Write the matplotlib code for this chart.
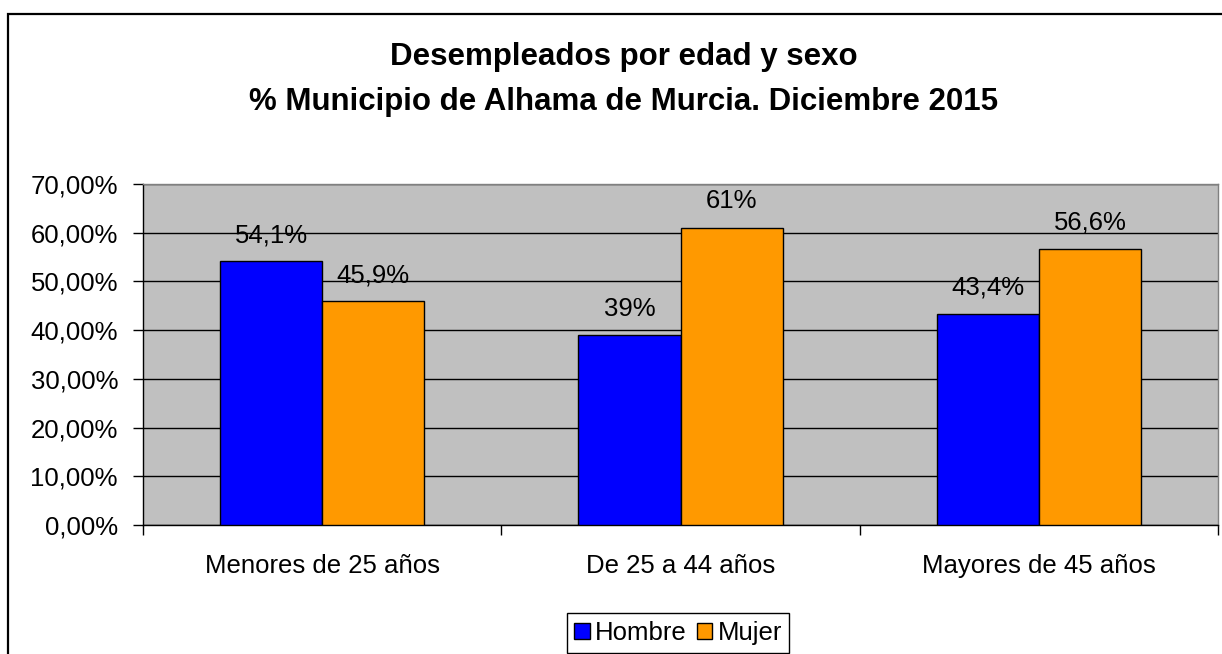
import matplotlib.pyplot as plt
from matplotlib.patches import Rectangle
import numpy as np

plt.rcParams['font.family'] = ['Liberation Sans', 'DejaVu Sans']

# Data
categories = ['Menores de 25 años', 'De 25 a 44 años', 'Mayores de 45 años']
hombre = [54.1, 39.0, 43.4]
mujer = [45.9, 61.0, 56.6]
hombre_labels = ['54,1%', '39%', '43,4%']
mujer_labels = ['45,9%', '61%', '56,6%']
yticks = [0, 10, 20, 30, 40, 50, 60, 70]
ytick_labels = ['0,00%', '10,00%', '20,00%', '30,00%', '40,00%', '50,00%', '60,00%', '70,00%']

W, H = 1222, 654
fs = 18.5
fig = plt.figure(figsize=(W / 100, H / 100), dpi=100)

# outer chart border (runs off the right and bottom of the picture)
fig.patches.append(Rectangle((8 / W, -0.05), 1.1, 1 - 14 / H + 0.05, transform=fig.transFigure,
                             fill=False, edgecolor='black', linewidth=1.6))

ax = fig.add_axes([143 / W, 1 - 525 / H, 1075 / W, 341 / H])
ax.set_facecolor('#C0C0C0')

x = np.arange(len(categories))
w = 0.285
b1 = ax.bar(x - w / 2, hombre, w, color='#0000FF', edgecolor='black', linewidth=1.0, label='Hombre', zorder=3)
b2 = ax.bar(x + w / 2, mujer, w, color='#FF9900', edgecolor='black', linewidth=1.0, label='Mujer', zorder=3)

for bars, labs in [(b1, hombre_labels), (b2, mujer_labels)]:
    for rect, lab in zip(bars, labs):
        ax.annotate(lab, (rect.get_x() + rect.get_width() / 2, rect.get_height()),
                    xytext=(0, 19), textcoords='offset points', ha='center', va='center',
                    fontsize=fs, zorder=4)

ax.set_ylim(0, 70)
ax.set_xlim(-0.5, 2.5)
ax.set_yticks(yticks)
ax.set_yticklabels(ytick_labels, fontsize=fs)
ax.yaxis.grid(True, color='black', linewidth=1.0, zorder=1)
ax.set_axisbelow(True)

ax.set_xticks(x)
ax.set_xticklabels(categories, fontsize=fs)
ax.tick_params(axis='x', which='major', length=0, pad=21)
ax.set_xticks([-0.5, 0.5, 1.5, 2.5], minor=True)
ax.tick_params(axis='x', which='minor', length=7, width=1.0, direction='out')
ax.tick_params(axis='y', length=7, width=1.0, direction='out', pad=11)

ax.spines['left'].set_color('black')
ax.spines['bottom'].set_color('black')
ax.spines['top'].set_color('#808080')
ax.spines['right'].set_color('#808080')
for s in ax.spines.values():
    s.set_linewidth(1.0)

fig.text(624 / W, 1 - 57 / H, 'Desempleados por edad y sexo', ha='center', va='center',
         fontsize=22.5, fontweight='bold')
fig.text(624 / W, 1 - 102 / H, '% Municipio de Alhama de Murcia. Diciembre 2015', ha='center', va='center',
         fontsize=22.5, fontweight='bold')

leg = fig.legend(loc='center', bbox_to_anchor=(678 / W, 1 - 633 / H), ncol=2, fontsize=fs,
                 frameon=True, fancybox=False, edgecolor='black', framealpha=1,
                 handlelength=0.6, handleheight=0.6, handletextpad=0.2, columnspacing=0.4,
                 borderpad=0.3, borderaxespad=0)
leg.get_frame().set_linewidth(1.0)

fig.savefig('out.png', dpi=100)
